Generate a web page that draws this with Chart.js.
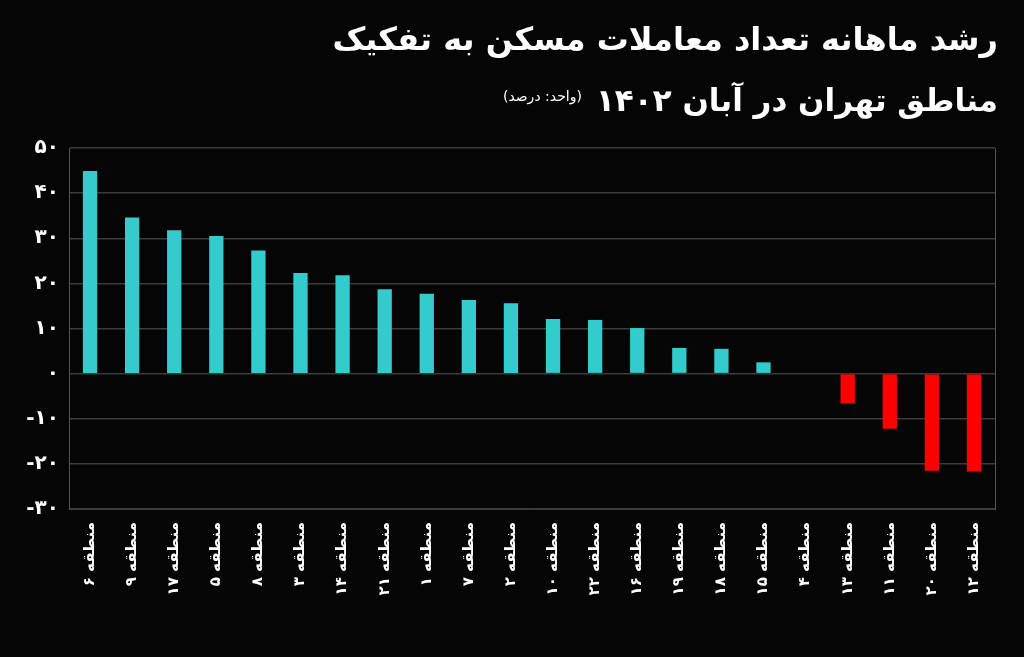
<!DOCTYPE html>
<html lang="fa">
<head>
<meta charset="utf-8">
<script src="https://cdn.jsdelivr.net/npm/chart.js@4.4.1/dist/chart.umd.min.js"></script>
<style>
  html, body { margin: 0; padding: 0; background: #050505; width: 1024px; height: 657px; overflow: hidden; }
  #wrap { position: relative; width: 1024px; height: 657px; }
  #chart { position: absolute; left: 0; top: 0; }
  .title { position: absolute; right: 26px; direction: rtl; color: #fff; font-family: "DejaVu Sans", "Noto Sans", sans-serif; font-weight: bold; white-space: nowrap; }
  #t1 { top: 20px; font-size: 32px; }
  #t2 { top: 82px; font-size: 31px; }
  #t2 small { font-size: 14px; font-weight: normal; margin-right: 14px; vertical-align: 10px; }
</style>
</head>
<body>
<div id="wrap">
  <canvas id="chart" width="1024" height="657"></canvas>
  <div class="title" id="t1">رشد ماهانه تعداد معاملات مسکن به تفکیک</div>
  <div class="title" id="t2">مناطق تهران در آبان ۱۴۰۲<small>(واحد: درصد)</small></div>
</div>
<script>
const regions = ["منطقه ۶", "منطقه ۹", "منطقه ۱۷", "منطقه ۵", "منطقه ۸", "منطقه ۳", "منطقه ۱۴", "منطقه ۲۱", "منطقه ۱", "منطقه ۷", "منطقه ۲",
  "منطقه ۱۰", "منطقه ۲۲", "منطقه ۱۶", "منطقه ۱۹", "منطقه ۱۸", "منطقه ۱۵", "منطقه ۴", "منطقه ۱۳", "منطقه ۱۱", "منطقه ۲۰", "منطقه ۱۲"];
const growth = [44.9, 34.6, 31.8, 30.5, 27.3, 22.3, 21.8, 18.7, 17.7, 16.3, 15.6,
  12.1, 11.9, 10.1, 5.7, 5.5, 2.5, 0, -6.6, -12.2, -21.5, -21.7];
const yTicks = [50, 40, 30, 20, 10, 0, -10, -20, -30];
const faDigits = ["۰", "۱", "۲", "۳", "۴", "۵", "۶", "۷", "۸", "۹"];

function toFa(n) {
  return String(n).replace(/\d/g, d => faDigits[d]);
}

const up = "#35CBCC";
const down = "#FF0000";
const gridColor = "#3c3c3c";

new Chart(document.getElementById("chart"), {
  type: "bar",
  data: {
    labels: regions,
    datasets: [{
      data: growth,
      backgroundColor: growth.map(v => v >= 0 ? up : down),
      barPercentage: 0.34,
      categoryPercentage: 1
    }]
  },
  options: {
    responsive: false,
    animation: false,
    layout: { padding: { top: 148, right: 29, left: 0, bottom: 0 } },
    plugins: { legend: { display: false }, tooltip: { enabled: false } },
    scales: {
      x: {
        grid: { display: false },
        border: { color: gridColor },
        ticks: {
          color: "#fff",
          font: { family: "DejaVu Sans", size: 15, weight: "bold" },
          minRotation: 90,
          maxRotation: 90,
          autoSkip: false,
          padding: 5
        },
        afterFit: s => { s.height = 148; }
      },
      y: {
        min: -30,
        max: 50,
        afterBuildTicks: s => { s.ticks = yTicks.map(v => ({ value: v })); },
        grid: { color: gridColor, lineWidth: 1.5, drawTicks: false },
        border: { color: "#555" },
        ticks: {
          color: "#fff",
          font: { family: "DejaVu Sans", size: 20, weight: "bold" },
          padding: 10,
          callback: v => toFa(v)
        },
        afterFit: s => { s.width = 69; }
      },
      yRight: {
        position: "right",
        min: -30,
        max: 50,
        grid: { display: false },
        border: { color: "#555" },
        ticks: { display: false },
        afterFit: s => { s.width = 0; }
      }
    }
  }
});
</script>
</body>
</html>
